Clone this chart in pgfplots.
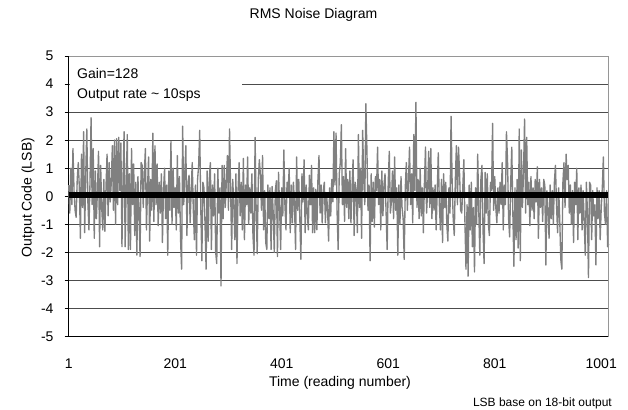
\documentclass[border=0pt]{standalone}
\usepackage{fontspec}
\setmainfont{Liberation Sans}
\usepackage{pgfplots}
\usepackage{pgfplotstable}
\pgfplotsset{compat=1.18}
\definecolor{sgray}{RGB}{128,128,128}
\definecolor{bgray}{RGB}{150,150,150}

\pgfplotstableread{
y
0.4
-0.6
1.0
-0.3
1.7
0.2
-0.5
-0.75
0.6
1.2
0.3
-1.5
1.5
-0.4
2.3
-1.3
0.8
2.4
-0.2
-1.2
0.5
2.8
-0.3
1.7
-1.5
0.9
-0.8
0.2
1.6
-1.8
1.1
-0.4
-1.2
0.6
-1.25
0.3
1.5
-0.7
1.2
-0.2
0.5
1.8
-0.5
2.0
-1.0
2.05
-0.3
2.1
0.2
1.9
-1.8
0.6
2.3
-1.8
0.4
2.2
-1.9
0.8
-1.9
1.7
-0.3
1.15
-1.4
0.5
-2.1
0.7
-0.6
-2.15
1.2
1.1
-0.4
0.8
1.7
-1.2
0.3
1.4
-1.6
0.6
-0.5
2.25
-0.9
1.8
-0.3
1.15
-1.05
0.5
-0.6
0.8
-1.65
0.2
1.0
-0.8
0.4
-2.1
0.9
-0.5
1.95
-1.0
1.0
-0.4
0.3
-1.2
1.45
-0.6
0.7
-1.5
-2.6
2.5
-0.3
0.8
1.8
-1.4
0.5
0.75
-0.95
0.2
1.2
-0.5
-1.55
0.4
-2.1
0.6
1.1
2.35
-0.4
-2.3
0.5
0.3
-1.0
-2.6
0.9
-1.6
0.6
1.2
-1.9
0.4
-0.7
0.8
-2.0
-2.4
1.0
-0.6
0.3
-3.2
1.1
-0.8
1.1
-0.4
0.5
1.45
-0.5
2.4
0.3
-1.9
0.6
-0.3
-1.55
0.8
-2.4
0.2
1.2
-0.7
0.5
-1.2
1.35
-1.55
0.4
-0.3
1.4
-1.0
0.3
-0.6
0.8
-1.4
-2.1
2.1
-0.5
-2.05
0.6
1.3
0.75
-0.5
1.45
-1.2
0.2
-1.65
-1.9
0.4
-0.8
0.3
-1.9
0.35
-0.6
-2.0
0.2
0.55
-2.15
0.85
-0.4
-1.9
0.3
-0.7
1.65
-0.3
-1.2
0.5
0.1
1.0
-1.3
0.4
-0.95
0.5
-0.3
-1.9
1.4
-0.5
0.6
-0.8
-2.25
0.8
-0.2
1.3
-1.3
0.4
-0.6
-1.2
0.75
-0.3
1.1
-1.3
0.3
-1.3
0.25
-1.2
0.6
1.45
-0.6
0.4
-0.95
0.2
0.5
-0.95
0.1
-0.4
-1.6
0.3
-0.7
0.6
-0.2
2.3
0.4
2.25
-0.6
-1.9
0.8
1.2
2.55
-0.3
0.7
-0.9
1.7
-0.4
0.6
-0.8
0.9
-0.95
0.3
1.3
-1.4
0.5
0.2
-1.3
2.2
-0.4
1.0
-1.5
2.35
0.6
-0.3
3.3
1.65
-0.5
0.4
-2.3
0.8
-0.9
0.5
-1.1
0.7
0.2
1.75
-0.3
0.6
-1.2
0.9
-0.7
0.4
0.8
-0.6
-1.9
0.5
1.6
-0.6
-0.2
0.9
-0.8
1.4
-0.5
0.3
-2.1
0.4
-1.0
0.7
-0.4
-0.8
-2.25
0.3
1.2
-0.5
0.6
1.75
-0.3
0.8
-0.95
2.2
0.2
3.35
-0.4
0.6
-0.8
1.0
-0.7
0.3
-1.3
0.5
1.75
-0.6
0.2
1.6
-0.4
1.7
-0.8
0.3
-0.5
0.4
-1.2
0.2
1.55
-0.3
-1.2
0.6
-1.65
0.8
-0.4
0.5
-1.0
-1.6
0.3
-0.6
2.85
0.5
-0.8
-1.4
0.6
1.8
-0.3
1.75
0.8
-0.5
-0.6
0.3
1.3
-0.9
-2.6
-0.3
-2.85
0.4
-1.2
0.5
-1.8
-0.4
-2.7
0.3
-1.0
1.5
-0.5
-2.1
0.6
1.1
-1.2
-2.4
0.85
-0.6
0.8
-1.0
-1.4
0.5
0.2
2.6
-0.5
0.7
-0.4
-0.95
0.3
-0.6
0.5
-0.3
1.2
-1.2
0.4
-0.3
2.3
1.3
-0.8
-1.45
0.5
1.75
-0.6
-2.5
0.3
-1.55
0.6
-1.85
2.4
-2.3
1.65
-0.4
0.8
2.75
-0.6
2.1
-0.3
0.5
-1.05
0.7
-0.5
0.3
-0.8
0.6
-0.2
1.05
-1.5
0.6
-0.4
0.3
-0.9
0.6
0.4
-2.45
0.2
-0.5
-1.5
0.4
-0.8
0.2
-1.0
0.5
1.1
-0.3
-1.3
0.3
-0.8
-2.25
-2.6
0.5
1.2
-0.4
1.5
0.6
1.1
-0.6
0.4
-1.0
0.2
-1.65
0.5
-0.3
1.0
-1.55
0.3
-0.6
0.4
-1.2
0.2
-0.9
-2.1
0.5
-0.5
-2.9
0.5
0.4
-1.55
0.2
-0.7
-0.3
-2.45
0.3
-0.8
0.2
-1.55
-0.4
0.3
1.4
-0.6
-1.0
0.2
-1.8
-1.7
}\noise

\begin{document}
\begin{tikzpicture}
\path[use as bounding box] (-68.7pt,-72.5pt) rectangle (559.3pt,336.5pt);
\begin{axis}[
  at={(0pt,0pt)}, anchor=south west,
  scale only axis, width=540pt, height=280.5pt,
  xmin=1, xmax=1015, ymin=-5, ymax=5,
  xtick={1,201,401,601,801,1001},
  xticklabels={1,201,401,601,801,1001},
  ytick={-5,-4,-3,-2,-1,0,1,2,3,4,5},
  scaled x ticks=false,
  axis x line*=bottom, axis y line*=left,
  axis line style={-, black, line width=0.8pt},
  ymajorgrids, grid style={black!70, line width=0.7pt},
  xtick style={draw=none},
  ytick style={black, line width=0.8pt},
  tick align=outside, major tick length=4pt,
  /pgf/number format/assume math mode=true,
  tick label style={font=\fontsize{14}{16}\selectfont},
  yticklabel style={anchor=east, inner sep=0pt, xshift=-11pt},
  xticklabel style={anchor=north, inner sep=0pt, yshift=-18pt},
  clip=false,
]
\addplot[sgray, line width=1.35pt, line join=round, mark=none]
  table[x expr=\coordindex*2+1, y=y] {\noise};
\addplot[black, line width=5.5pt, mark=none] coordinates {(1.5,0.05) (1015,0.05)};
\draw[bgray, line width=0.8pt] (axis cs:1,5) -- (axis cs:1015,5) -- (axis cs:1015,-5);
\fill[white] (axis cs:4,3.3) rectangle (axis cs:325.5,4.93);
\node[anchor=base west, inner sep=0pt, font=\fontsize{14}{16}\selectfont] at (axis cs:16.6,4.2) {Gain=128};
\node[anchor=base west, inner sep=0pt, font=\fontsize{14}{16}\selectfont] at (axis cs:16.6,3.5) {Output rate \textasciitilde{} 10sps};
\end{axis}
\node[anchor=base, inner sep=0pt, font=\fontsize{14}{16}\selectfont] at (244.8pt,317.5pt) {RMS Noise Diagram};
\node[rotate=90, inner sep=0pt, font=\fontsize{14}{16}\selectfont] at (-40.7pt,139pt) {Output Code (LSB)};
\node[inner sep=0pt, font=\fontsize{14}{16}\selectfont] at (271.3pt,-46pt) {Time (reading number)};
\node[anchor=east, inner sep=0pt, font=\fontsize{12}{14}\selectfont] at (543.3pt,-66.5pt) {LSB base on 18-bit output};
\end{tikzpicture}
\end{document}
